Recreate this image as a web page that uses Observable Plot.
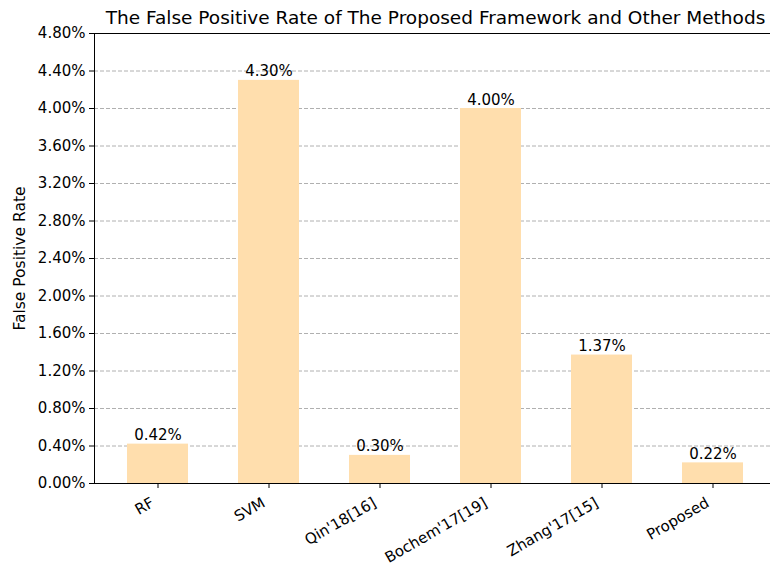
<!DOCTYPE html>
<html>
<head>
<meta charset="utf-8">
<script src="https://cdn.jsdelivr.net/npm/d3@7"></script>
<script src="https://cdn.jsdelivr.net/npm/@observablehq/plot@0.6"></script>
<style>
  html, body { margin: 0; padding: 0; background: white; }
</style>
</head>
<body>
<div id="chart"></div>
<script>
const title = "The False Positive Rate of The Proposed Framework and Other Methods";
const yLabel = "False Positive Rate";
const categories = ["RF", "SVM", "Qin'18[16]", "Bochem'17[19]", "Zhang'17[15]", "Proposed"];
const fpr = [0.42, 4.30, 0.30, 4.00, 1.37, 0.22];
const yTicks = [0, 0.4, 0.8, 1.2, 1.6, 2.0, 2.4, 2.8, 3.2, 3.6, 4.0, 4.4, 4.8];

const data = categories.map((c, i) => ({name: c, value: fpr[i]}));
const pct = d => d.toFixed(2) + "%";
const font = "DejaVu Sans, sans-serif";

const chart = Plot.plot({
  width: 770,
  height: 567,
  marginLeft: 94,
  marginRight: 0,
  marginTop: 33,
  marginBottom: 84,
  x: {domain: categories, range: [94, 777], paddingInner: 0.45, paddingOuter: 0.28, axis: null},
  y: {domain: [0, 4.8], axis: null},
  style: {fontFamily: font, fontSize: "15px", color: "black", background: "white", overflow: "visible"},
  marks: [
    Plot.gridY(yTicks, {stroke: "#b0b0b0", strokeOpacity: 1, strokeWidth: 1, strokeDasharray: "4,2"}),
    Plot.barY(data, {x: "name", y: "value", fill: "#FFDEAD"}),
    Plot.frame({anchor: "left", stroke: "black", strokeWidth: 1}),
    Plot.frame({anchor: "top", stroke: "black", strokeWidth: 1}),
    Plot.frame({anchor: "bottom", stroke: "black", strokeWidth: 1}),
    Plot.axisY({ticks: yTicks, tickSize: 5, tickPadding: 4, tickFormat: pct, label: null, fontSize: 15, stroke: "black"}),
    Plot.axisX({tickSize: 5, tickFormat: () => "", label: null, stroke: "black"}),
    Plot.text(data, {x: "name", frameAnchor: "bottom", text: "name", rotate: -30, textAnchor: "end", lineAnchor: "top", dx: -8, dy: 13, fontSize: 15, fill: "black"}),
    Plot.text(data, {x: "name", y: "value", text: d => pct(d.value), lineAnchor: "bottom", dy: -4, fontSize: 15, fill: "black"}),
    Plot.text([yLabel], {frameAnchor: "left", dx: -74, rotate: -90, textAnchor: "middle", lineAnchor: "middle", fontSize: 15.5, fill: "black"}),
    Plot.text([title], {frameAnchor: "top", dy: -15, dx: 3, lineAnchor: "middle", fontSize: 18.5, fill: "black"})
  ]
});
document.getElementById("chart").append(chart);
</script>
</body>
</html>
